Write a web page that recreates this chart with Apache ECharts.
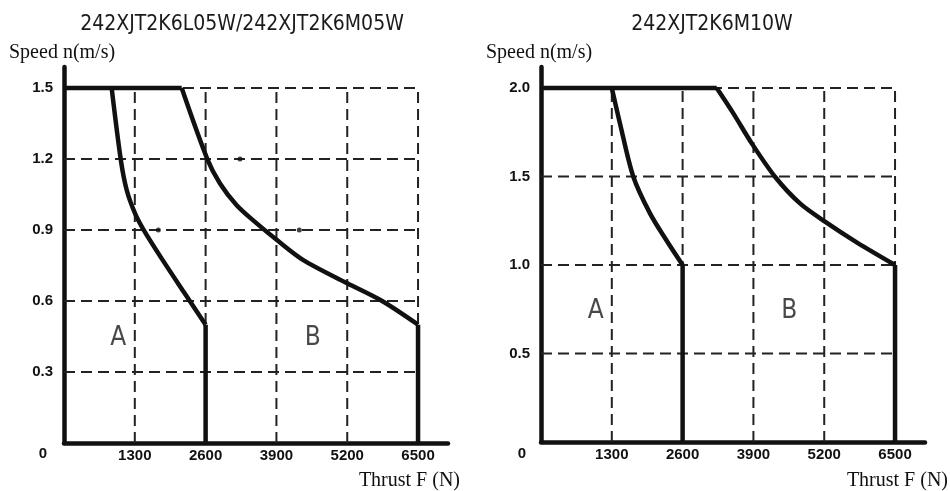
<!DOCTYPE html>
<html>
<head>
<meta charset="utf-8">
<script src="https://cdn.jsdelivr.net/npm/echarts@6/dist/echarts.min.js"></script>
<style>
html,body{margin:0;padding:0;background:#fff;}
#chart{width:950px;height:491px;}
</style>
</head>
<body>
<div id="chart"></div>
<script>
// ---- data ----
const titles = ['242XJT2K6L05W/242XJT2K6M05W', '242XJT2K6M10W'];
const yAxisName = 'Speed n(m/s)';
const xAxisName = 'Thrust F (N)';
const xTicks = [1300, 2600, 3900, 5200, 6500];
const leftYTicks = [0.3, 0.6, 0.9, 1.2, 1.5];
const rightYTicks = [0.5, 1.0, 1.5, 2.0];

// left chart (242XJT2K6L05W / M05W)
const leftTopLine = [[0, 1.5], [2161, 1.5]];
const leftCurveA = [[875, 1.5], [1041, 1.2], [1151, 1.069], [1304, 0.97], [1456, 0.903], [1800, 0.777], [2200, 0.638], [2600, 0.5]];
const leftCurveB = [[2161, 1.5], [2631, 1.2], [2864, 1.097], [3170, 1.005], [3538, 0.928], [3892, 0.861], [4394, 0.773], [5200, 0.675], [5840, 0.6], [6500, 0.5]];
const leftDots = [[1732, 0.9], [3231, 1.2], [4320, 0.9]];
const leftRegionLabels = [['A', 997, 0.442], ['B', 4566, 0.442]];

// right chart (242XJT2K6M10W)
const rightTopLine = [[0, 2.0], [3226, 2.0]];
const rightCurveA = [[1300, 2.0], [1450, 1.8], [1695, 1.499], [2001, 1.292], [2308, 1.137], [2600, 1.0]];
const rightCurveB = [[3226, 2.0], [3531, 1.857], [3868, 1.688], [4296, 1.499], [4755, 1.348], [5214, 1.245], [5796, 1.128], [6500, 1.0]];
const rightRegionLabels = [['A', 1004, 0.736], ['B', 4559, 0.736]];

// ---- chart ----
const INK = '#111';
const chart = echarts.init(document.getElementById('chart'));
const tickFont = 'Liberation Sans Narrow, Liberation Sans, Arial';

function axisPair(gridIndex, yInterval, yMax, yTicks) {
  return {
    x: {
      type: 'value', gridIndex: gridIndex, min: 0, max: 7050, interval: 1300,
      axisLine: { show: true, lineStyle: { color: INK, width: 4.5 } },
      axisTick: { show: false }, splitLine: { show: false },
      axisLabel: {
        margin: 5, color: '#111', fontFamily: tickFont, fontWeight: 'bold', fontSize: 15,
        formatter: v => xTicks.indexOf(v) >= 0 ? String(v) : ''
      }
    },
    y: {
      type: 'value', gridIndex: gridIndex, min: 0, max: yMax, interval: yInterval,
      axisLine: { show: true, lineStyle: { color: INK, width: 4.5 } },
      axisTick: { show: false }, splitLine: { show: false },
      axisLabel: {
        margin: 11, color: '#111', fontFamily: tickFont, fontWeight: 'bold', fontSize: 15,
        formatter: v => {
          const r = Math.round(v * 10) / 10;
          return (r > 0 && yTicks.some(t => Math.abs(t - v) < 1e-6)) ? r.toFixed(1) : '';
        }
      }
    }
  };
}

const L = axisPair(0, 0.3, 1.589, leftYTicks);
const R = axisPair(1, 0.5, 2.119, rightYTicks);

function gridSeries(idx, yTicks, yTop) {
  const out = [];
  const ls = { color: '#222', width: 2, type: [11, 6] };
  xTicks.forEach(x => out.push({
    type: 'line', xAxisIndex: idx, yAxisIndex: idx, data: [[x, 0], [x, yTop]],
    symbol: 'none', lineStyle: ls, silent: true, z: 1, animation: false
  }));
  yTicks.forEach(y => out.push({
    type: 'line', xAxisIndex: idx, yAxisIndex: idx, data: [[0, y], [xTicks[xTicks.length - 1], y]],
    symbol: 'none', lineStyle: ls, silent: true, z: 1, animation: false
  }));
  return out;
}

function solid(idx, data, smooth) {
  return {
    type: 'line', xAxisIndex: idx, yAxisIndex: idx, data: data, symbol: 'none',
    smooth: smooth ? 0.3 : false,
    lineStyle: { color: INK, width: 4.5, cap: 'butt', join: 'miter' }, z: 5, animation: false
  };
}
function drop(idx, curve) {
  const last = curve[curve.length - 1];
  return solid(idx, [[last[0], last[1]], [last[0], 0]], false);
}
function regionLabels(idx, labels) {
  return {
    type: 'scatter', xAxisIndex: idx, yAxisIndex: idx, symbolSize: 0,
    data: labels.map(l => ({ value: [l[1], l[2]], name: l[0] })),
    label: { show: true, position: 'inside', formatter: p => p.name, color: '#1a1a1a',
      fontFamily: 'DejaVu Sans Condensed, DejaVu Sans', fontSize: 26 },
    z: 6, animation: false, silent: true
  };
}

const series = [].concat(
  gridSeries(0, leftYTicks, 1.5),
  gridSeries(1, rightYTicks, 2.0),
  [
    solid(0, leftTopLine, false),
    solid(0, leftCurveA, true), drop(0, leftCurveA),
    solid(0, leftCurveB, true), drop(0, leftCurveB),
    { type: 'scatter', xAxisIndex: 0, yAxisIndex: 0, data: leftDots, symbolSize: 5,
      itemStyle: { color: '#111' }, z: 4, animation: false, silent: true },
    regionLabels(0, leftRegionLabels),
    solid(1, rightTopLine, false),
    solid(1, rightCurveA, true), drop(1, rightCurveA),
    solid(1, rightCurveB, true), drop(1, rightCurveB),
    regionLabels(1, rightRegionLabels)
  ]
);

const titleFont = 'DejaVu Sans Condensed, DejaVu Sans';
const serif = 'Liberation Serif, Times New Roman, serif';

chart.setOption({
  backgroundColor: '#fff',
  animation: false,
  grid: [
    { left: 64, top: 67, width: 384, height: 376 },
    { left: 541, top: 67, width: 384, height: 375 }
  ],
  xAxis: [L.x, R.x],
  yAxis: [L.y, R.y],
  series: series,
  graphic: [
    { type: 'text', x: 242, y: 25, style: { text: titles[0], font: '21px ' + titleFont, fill: '#1a1a1a', textAlign: 'center', textVerticalAlign: 'middle' } },
    { type: 'text', x: 712, y: 25, style: { text: titles[1], font: '21px ' + titleFont, fill: '#1a1a1a', textAlign: 'center', textVerticalAlign: 'middle' } },
    { type: 'text', x: 9, y: 53, style: { text: yAxisName, font: '20px ' + serif, fill: '#111', textAlign: 'left', textVerticalAlign: 'middle' } },
    { type: 'text', x: 486, y: 53, style: { text: yAxisName, font: '20px ' + serif, fill: '#111', textAlign: 'left', textVerticalAlign: 'middle' } },
    { type: 'text', x: 460, y: 481, style: { text: xAxisName, font: '20px ' + serif, fill: '#111', textAlign: 'right', textVerticalAlign: 'middle' } },
    { type: 'text', x: 948, y: 481, style: { text: xAxisName, font: '20px ' + serif, fill: '#111', textAlign: 'right', textVerticalAlign: 'middle' } },
    { type: 'text', x: 43, y: 454, style: { text: '0', font: 'bold 15px ' + tickFont, fill: '#111', textAlign: 'center', textVerticalAlign: 'middle' } },
    { type: 'text', x: 522, y: 454, style: { text: '0', font: 'bold 15px ' + tickFont, fill: '#111', textAlign: 'center', textVerticalAlign: 'middle' } }
  ]
});
</script>
</body>
</html>
